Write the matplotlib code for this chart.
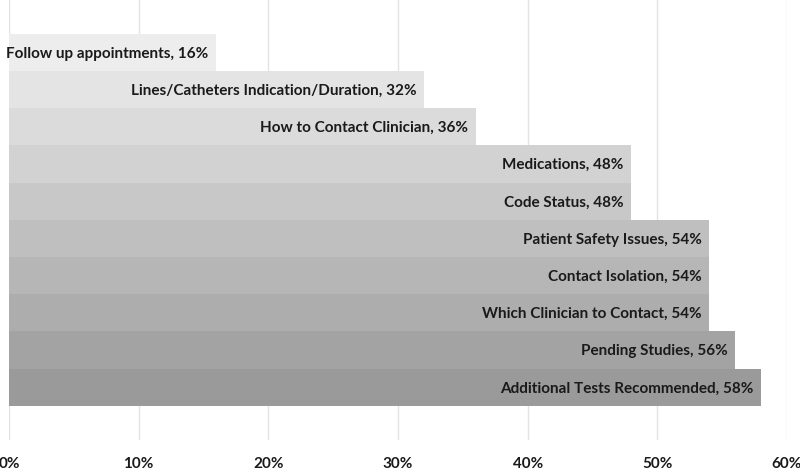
import matplotlib
matplotlib.use('Agg')
import matplotlib.pyplot as plt
import numpy as np

# ── Data ────────────────────────────────────────────────────────────────
categories = [
    'Follow up appointments',
    'Lines/Catheters Indication/Duration',
    'How to Contact Clinician',
    'Medications',
    'Code Status',
    'Patient Safety Issues',
    'Contact Isolation',
    'Which Clinician to Contact',
    'Pending Studies',
    'Additional Tests Recommended',
]
values = [16, 32, 36, 48, 48, 54, 54, 54, 56, 58]
xticks = [0, 10, 20, 30, 40, 50, 60]

# grey ramp, light at top to darker at bottom
greys = np.linspace(0.93, 0.605, len(values))

plt.rcParams['font.family'] = ['Lato', 'DejaVu Sans']

fig = plt.figure(figsize=(8, 4.72), dpi=100)
ax = fig.add_axes([9 / 800, 32 / 472, 778 / 800, 440 / 472])

y = np.arange(len(values))
for i, (cat, v) in enumerate(zip(categories, values)):
    g = greys[i]
    ax.barh(y[i], v, height=1.0, color=(g, g, g), edgecolor='none', zorder=2)
    ax.text(v - 0.6, y[i] + 0.03, f'{cat}, {v}%', ha='right', va='center',
            fontsize=11, fontweight='bold', color='#1a1a1a', zorder=3)

ax.set_xlim(0, 60)
ax.set_ylim(len(values) - 1 + 1.42, -1.41)
ax.set_xticks(xticks)
ax.set_xticklabels([f'{t}%' for t in xticks], fontsize=11, fontweight='bold',
                   color='#1a1a1a')
ax.set_yticks([])
ax.tick_params(axis='x', length=0, pad=12)
ax.grid(axis='x', color='#e3e3e3', linewidth=1.0, zorder=0)
for s in ax.spines.values():
    s.set_visible(False)

fig.savefig('out.png', dpi=100)
